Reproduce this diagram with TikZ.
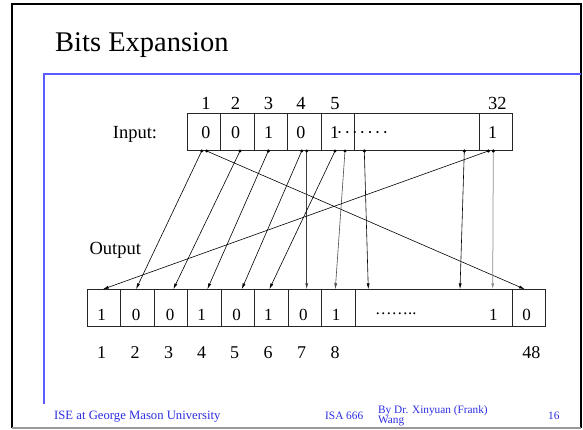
\documentclass[tikz,border=0pt]{standalone}
\usepackage{fontspec}
\setmainfont{Liberation Serif}
\usetikzlibrary{arrows.meta}
\definecolor{slideblue}{RGB}{90,90,255}
\definecolor{footblue}{RGB}{45,45,225}
\newcommand\fsz[1]{\fontsize{#1}{#1}\selectfont}
\begin{document}
\begin{tikzpicture}[x=1pt,y=-1pt,
  cell/.style={draw=black!85, line width=0.8pt, inner sep=0pt, minimum height=37.5pt},
  numlab/.style={anchor=base, inner sep=0pt, font=\fsz{18.5}},
  inval/.style={anchor=base, inner sep=0pt, font=\fsz{18}},
  outval/.style={anchor=base, inner sep=0pt, font=\fsz{17}},
  botnum/.style={anchor=base, inner sep=0pt, font=\fsz{18}},
  lab/.style={anchor=base west, inner sep=0pt, font=\fsz{18.5}},
  foot/.style={anchor=base west, inner sep=0pt, text=footblue, font=\fsz{11.3}},
  conn/.style={-{Latex[length=6pt,width=3pt]}, line width=0.6pt, draw=black},
  conngray/.style={conn, draw=black!45, line width=0.75pt},
  tap/.style={fill=black}
]
\useasboundingbox (0,0) rectangle (583,430);
% slide frame
\draw[line width=2pt, black] (12,428) -- (12,4) -- (581,4) -- (581,428);
\draw[line width=1.2pt, black!40] (12,428) -- (581,428);
\draw[line width=1.3pt, slideblue] (44,404) -- (44,74) -- (581,74);
% title
\node[anchor=base west, inner sep=0pt, font=\fsz{28.5}] (title) at (55,51.7) {Bits Expansion};

% labels
\node[lab] (inlab) at (112.7,138.5) {Input:};
\node[lab] (outlab) at (89.3,254.5) {Output};

% input cells
\node[cell, minimum width=33.4pt] (i1) at (204,132) {};
\node[cell, minimum width=33.6pt] (i2) at (237.5,132) {};
\node[cell, minimum width=33.4pt] (i3) at (271,132) {};
\node[cell, minimum width=33.3pt] (i4) at (304.35,132) {};
\node[cell, minimum width=33pt] (i5) at (337.5,132) {};
\node[cell, minimum width=125pt] (iD) at (416.5,132) {};
\node[cell, minimum width=33.3pt] (i32) at (495.65,132) {};

% input numbers
\node[numlab] (n1) at (206,110) {1};
\node[numlab] (n2) at (235.5,110) {2};
\node[numlab] (n3) at (268.5,110) {3};
\node[numlab] (n4) at (301,110) {4};
\node[numlab] (n5) at (335,110) {5};
\node[numlab] (n32) at (497.3,110) {32};

% input values
\node[inval] (v1) at (205.8,139) {0};
\node[inval] (v2) at (235.5,139) {0};
\node[inval] (v3) at (268.7,139) {1};
\node[inval] (v4) at (300.8,139) {0};
\node[inval] (v5) at (334.5,139) {1};
\node[anchor=base west, inner sep=0pt, font=\fsz{18}] (vdots) at (336.5,139)
  {·\kern1.6pt·\kern1.6pt·\kern1.6pt·\kern1.6pt·\kern1.6pt·\kern1.6pt·};
\node[inval] (v32) at (492.5,139) {1};

% output cells
\node[cell, minimum width=33.4pt] (o1) at (104,308) {};
\node[cell, minimum width=33.6pt] (o2) at (137.5,308) {};
\node[cell, minimum width=33.4pt] (o3) at (171,308) {};
\node[cell, minimum width=33.6pt] (o4) at (204.5,308) {};
\node[cell, minimum width=33pt] (o5) at (237.8,308) {};
\node[cell, minimum width=33.7pt] (o6) at (271.15,308) {};
\node[cell, minimum width=33.7pt] (o7) at (304.85,308) {};
\node[cell, minimum width=33.3pt] (o8) at (338.35,308) {};
\node[cell, minimum width=157.3pt] (oD) at (433.65,308) {};
\node[cell, minimum width=33.4pt] (o48) at (529,308) {};

% output values
\node[outval] (w1) at (101.7,320) {1};
\node[outval] (w2) at (136,320) {0};
\node[outval] (w3) at (170,320) {0};
\node[outval] (w4) at (201.7,320) {1};
\node[outval] (w5) at (236.5,320) {0};
\node[outval] (w6) at (268.3,320) {1};
\node[outval] (w7) at (303.3,320) {0};
\node[outval] (w8) at (336,320) {1};
\node[anchor=base west, inner sep=0pt, font=\fsz{16.5}] (wdots) at (375,314.5) {……..};
\node[outval] (w47) at (493.3,320) {1};
\node[outval] (w48) at (526.7,320) {0};

% bottom numbers
\node[botnum] (b1) at (101.7,358) {1};
\node[botnum] (b2) at (135,358) {2};
\node[botnum] (b3) at (168.5,358) {3};
\node[botnum] (b4) at (201.7,358) {4};
\node[botnum] (b5) at (234.5,358) {5};
\node[botnum] (b6) at (268,358) {6};
\node[botnum] (b7) at (301.7,358) {7};
\node[botnum] (b8) at (335,358) {8};
\node[botnum] (b48) at (531.4,358) {48};

% tap points on input
\coordinate (s1a) at (201.7,151);
\coordinate (s1b) at (206.7,151);
\coordinate (s2) at (240,151);
\coordinate (s3) at (268.3,151);
\coordinate (s4a) at (301.7,151);
\coordinate (s4b) at (306.7,151);
\coordinate (s5a) at (335,151);
\coordinate (s5b) at (345,151);
\coordinate (s6) at (364.3,151);
\coordinate (s31) at (464.3,151);
\coordinate (s32a) at (488.3,151);
\coordinate (s32b) at (493.3,151);
% targets on output
\coordinate (t1) at (102.7,289.3);
\coordinate (t2) at (136,289.3);
\coordinate (t3) at (173.3,289.3);
\coordinate (t4) at (207.3,289.3);
\coordinate (t5) at (241.7,289.3);
\coordinate (t6) at (269.3,289.3);
\coordinate (t7) at (306.7,289.3);
\coordinate (t8) at (335.3,289.3);
\coordinate (t9) at (368.3,289.3);
\coordinate (t46) at (460,289.3);
\coordinate (t47) at (492.7,289.3);
\coordinate (t48) at (525,289.3);

\draw[conn] (s1a) -- (t2);
\draw[conn] (s1b) -- (t48);
\draw[conn] (s2) -- (t3);
\draw[conn] (s3) -- (t4);
\draw[conn] (s4a) -- (t5);
\draw[conn, draw=black!75] (s4b) -- (t7);
\draw[conn] (s5a) -- (t6);
\draw[conn, draw=black!70] (s5b) -- (t8);
\draw[conn] (s6) -- (t9);
\draw[conn] (s31) -- (t46);
\draw[conn] (s32a) -- (t1);
\draw[conngray] (s32b) -- (t47);

\foreach \p in {s1a,s1b,s2,s3,s4a,s4b,s5a,s5b,s6,s31,s32a,s32b}
  \fill[tap] (\p) circle (1.7pt);

% footer
\node[foot, font=\fsz{12.7}] (f1) at (54,419) {ISE at George Mason University};
\node[foot] (f2) at (325,419.5) {ISA 666};
\node[foot] (f3) at (378,413.3) {By Dr. Xinyuan (Frank)};
\node[foot] (f4) at (378,423.3) {Wang};
\node[foot] (f5) at (548,419.5) {16};
\end{tikzpicture}
\end{document}
